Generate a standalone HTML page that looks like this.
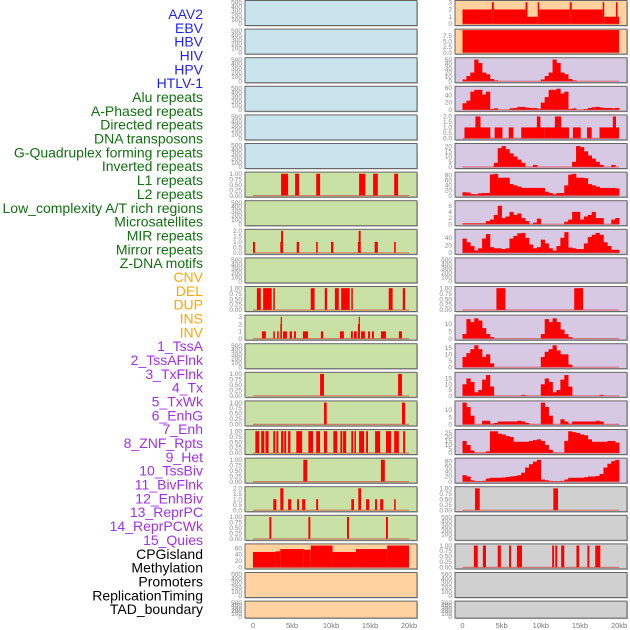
<!DOCTYPE html>
<html><head><meta charset="utf-8"><style>
html,body{margin:0;padding:0;background:#fff;width:630px;height:630px;overflow:hidden}
svg{display:block}
text{font-family:"Liberation Sans",sans-serif}
</style></head><body>
<svg id="chart" width="630" height="630" viewBox="0 0 630 630" xmlns="http://www.w3.org/2000/svg"></svg>
<script>
// ---- labels ----
const labels = ["AAV2","EBV","HBV","HIV","HPV","HTLV-1","Alu repeats","A-Phased repeats","Directed repeats","DNA transposons","G-Quadruplex forming repeats","Inverted repeats","L1 repeats","L2 repeats","Low_complexity A/T rich regions","Microsatellites","MIR repeats","Mirror repeats","Z-DNA motifs","CNV","DEL","DUP","INS","INV","1_TssA","2_TssAFlnk","3_TxFlnk","4_Tx","5_TxWk","6_EnhG","7_Enh","8_ZNF_Rpts","9_Het","10_TssBiv","11_BivFlnk","12_EnhBiv","13_ReprPC","14_ReprPCWk","15_Quies","CPGisland","Methylation","Promoters","ReplicationTiming","TAD_boundary"];
const labelColors = ["#1f1fff","#1f1fff","#1f1fff","#1f1fff","#1f1fff","#1f1fff","#117011","#117011","#117011","#117011","#117011","#117011","#117011","#117011","#117011","#117011","#117011","#117011","#117011","#ffa500","#ffa500","#ffa500","#ffa500","#ffa500","#a030f0","#a030f0","#a030f0","#a030f0","#a030f0","#a030f0","#a030f0","#a030f0","#a030f0","#a030f0","#a030f0","#a030f0","#a030f0","#a030f0","#a030f0","#000","#000","#000","#000","#000"];
const xTickValues = [0,5,10,15,20];
const xTickLabels = ["0","5kb","10kb","15kb","20kb"];

// ---- tick sets ----
const ticksEmpty = [0,100,200,300,400,500];
const ticks1 = [0,0.25,0.5,0.75,1.0];
const ticks2 = [0,0.5,1.0,1.5,2.0];
const ticks3 = [0,1,2,3];

// ---- segment data: [startKb, endKb, value] ----
const aluSegs = [[3.6,4.5,1],[5.4,5.9,1],[8.1,8.6,1],[13.6,14.4,1],[15.4,16.0,1],[18.1,18.6,1]];
const directedSegs = [[0,0.26,1],[3.5,3.8,1],[3.6,3.85,2],[5.6,5.9,1],[8.1,8.3,1],[10.0,10.3,1],[13.45,13.8,1],[13.55,13.8,2],[15.6,16.0,1],[18.1,18.3,1]];
const gquadSegs = [[0.5,1.0,1],[1.3,2.4,1],[2.6,2.8,1],[7.4,7.9,1],[9.2,9.5,1],[10.5,11.0,1],[11.3,12.4,1],[12.6,12.8,1],[17.4,17.9,1],[19.2,19.5,1]];
const invertedSegs = [[1.15,1.65,1],[2.6,2.8,1],[3.1,3.3,1],[3.5,3.7,2],[3.55,3.7,3],[3.85,4.35,1],[4.7,5.0,1],[5.25,5.5,1],[6.4,7.05,1],[8.7,9.0,1],[11.15,11.65,1],[12.55,12.8,1],[12.95,13.3,1],[13.45,13.7,2],[13.55,13.7,3],[13.85,14.35,1],[14.75,15.0,1],[15.25,15.5,1],[16.4,17.05,1],[18.7,19.1,1]];
const l2Segs = [[8.6,9.1,1],[18.6,19.1,1]];
const lowcSegs = [[9.1,9.45,1],[19.1,19.5,1]];
const microSegs = [[0.3,0.8,1],[1.05,1.45,1],[1.6,2.0,1],[2.6,2.85,1],[3.0,3.25,1],[3.6,3.9,1],[4.0,4.25,1],[4.5,4.8,1],[5.55,6.3,1],[7.1,7.7,1],[8.1,8.6,1],[9.1,9.5,1],[10.3,10.8,1],[11.2,11.45,1],[11.55,11.95,1],[12.6,12.85,1],[13.0,13.2,1],[13.6,14.25,1],[14.5,14.75,1],[15.65,16.3,1],[17.05,17.7,1],[18.1,18.7,1],[19.25,19.5,1]];
const mirSegs = [[6.45,6.95,1],[16.4,16.9,1]];
const mirrorSegs = [[2.6,3.0,1],[3.5,3.9,2],[4.5,4.9,1],[5.65,5.9,1],[6.3,6.7,1],[8.1,8.35,1],[12.6,12.95,1],[13.5,13.85,2],[14.5,14.9,1],[15.65,15.9,1],[16.3,16.7,1],[18.1,18.3,1]];
const zdnaSegs = [[2.1,2.35,1],[7.1,7.35,1],[12.05,12.3,1],[17.05,17.3,1]];
const cnvSegs = [[0,2.9,48],[2.9,3.5,50],[3.5,6.5,57],[6.5,7.4,55],[7.4,10.2,68],[10.2,13.2,48],[13.2,17.2,57],[17.2,20,68]];
const insSegs = [[0,3.75,2],[3.75,4.0,3],[4.0,8.05,2],[8.05,8.3,3],[8.3,9.6,1],[9.6,9.8,3],[9.8,13.7,2],[13.7,13.95,3],[13.95,17.9,2],[17.9,18.1,3],[18.1,19.6,1],[19.6,19.8,3],[19.8,20,1]];
const invSegs = [[0,20,10]];
const txFlnkSegs = [[0.25,3.55,1],[1.65,2.3,2],[4.1,5.1,1],[5.9,6.5,1],[7.5,10.45,1],[9.5,9.95,2],[10.45,13.6,1],[11.8,12.6,2],[14.1,15.1,1],[15.9,16.5,1],[17.5,20,1],[19.2,19.6,2]];
const hetSegs = [[4.33,5.48,1],[14.27,15.4,1]];
const cpgSegs = [[1.6,2.2,1],[11.6,12.2,1]];
const promoterSegs = [[1.45,1.95,1],[2.6,3.0,1],[4.5,4.9,1],[5.95,6.2,1],[6.95,7.6,1],[11.45,11.7,1],[11.85,12.1,1],[12.6,13.0,1],[14.55,14.9,1],[15.95,16.2,1],[16.95,17.6,1]];

// ---- binned data: 40 bins of 0.5kb ----
const tssABins = [4,12,20,50,42,20,16,5,2,0,0,0,0,0,0,0,0,0,0,0,4,12,20,50,42,20,16,5,2,0,0,0,0,0,0,0,0,0,0,0];
const tssAFlnkBins = [18,25,50,55,55,42,50,2,4,0,0,0,4,5,8,8,6,5,5,3,20,35,55,55,58,45,50,2,4,0,0,2,5,7,8,6,5,5,4,5];
const txBins = [0,0,0,0,0,0,0,0,4,18,20,17,13,10,7,4,0,0,2,0,0,0,0,0,0,0,0,0,5,20,19,15,11,8,5,2,0,0,2,0];
const txWkBins = [13,12,6,5,9,10,10,83,85,70,70,70,45,40,35,30,30,30,30,30,30,15,10,5,10,10,40,82,85,70,70,68,45,40,35,30,30,30,30,28];
const enhGBins = [0.3,0.3,0.3,0.3,0.3,0.3,1,1.5,3,6,2,2.5,4,3,3.5,2,1,0,0.5,1.8,0,0,0,0,0,0,0.8,1.5,4,4,1.5,2.5,3,4,2,2,0,0,1.5,2];
const enhBins = [38,28,18,6,12,38,50,15,12,12,10,12,38,45,52,53,40,22,12,15,35,25,12,6,18,40,55,14,12,10,10,25,42,48,53,48,28,18,8,8];
const tssBivBins = [3,13,11,13.5,12,7,3,1,0,0,0,0,0,0,0,0,0,0,0,0,3,13,11,13.5,11,6,3,1,0,0,0,0,0,0,0,0,0,0,0,0];
const bivFlnkBins = [8,11,14,17,14,8,10,3,0,0,0,0,0,0,0,0,0,0,0,0,8,12,14,17,13,10,10,2,0,0,0,0,0,0,0,0,0,0,0,0];
const enhBivBins = [10,15,12,3,5,14,18,8,0,0,0,0,0,0,0,0.8,0,0,0,0,10,15,12,3,5,14,18,8,0,0,0,0,0,0,0,0.8,0,0,0,0];
const reprPCBins = [15,12,6,0,0,2.5,2.5,0.5,1,2,2,2,2,2,2.5,2,1,0,0,0,15,12,6,0,0,3.5,2,0.5,2,2,2,2,2,2,2.5,2,0,0,0,0];
const reprPCWkBins = [15,10,3,0.5,0.5,0.5,2,27,27,24,23,21,20,14,14,14,14,15,16,17,15,10,4,0.5,0.5,0.5,15,27,26,25,23,22,17,14,14,14,14,15,15,13];
const quiesBins = [25,20,5,2,2,3,12,15,15,15,16,18,20,22,25,35,55,68,78,85,8,5,3,2,2,3,8,15,15,15,15,17,20,20,22,30,55,70,80,85];

// ---- panels: [labelIndex, column, row, bg, ymax, ticks, type, data] ----
const BLUE="#c9e4ec", GREEN="#c9e1a5", ORANGE="#ffd2a0", PURPLE="#d7c8e3", GREY="#d0d0d0";
const panels = [
 [0,0,0,BLUE,520,ticksEmpty,null,null],[1,0,1,BLUE,520,ticksEmpty,null,null],[2,0,2,BLUE,520,ticksEmpty,null,null],
 [3,0,3,BLUE,520,ticksEmpty,null,null],[4,0,4,BLUE,520,ticksEmpty,null,null],[5,0,5,BLUE,520,ticksEmpty,null,null],
 [6,0,6,GREEN,1.03,ticks1,"seg",aluSegs],[7,0,7,GREEN,520,ticksEmpty,null,null],[8,0,8,GREEN,2.05,ticks2,"seg",directedSegs],
 [9,0,9,GREEN,520,ticksEmpty,null,null],[10,0,10,GREEN,1.03,ticks1,"seg",gquadSegs],[11,0,11,GREEN,3.1,ticks3,"seg",invertedSegs],
 [12,0,12,GREEN,520,ticksEmpty,null,null],[13,0,13,GREEN,1.03,ticks1,"seg",l2Segs],[14,0,14,GREEN,1.03,ticks1,"seg",lowcSegs],
 [15,0,15,GREEN,1.03,ticks1,"seg",microSegs],[16,0,16,GREEN,1.03,ticks1,"seg",mirSegs],[17,0,17,GREEN,2.05,ticks2,"seg",mirrorSegs],
 [18,0,18,GREEN,1.03,ticks1,"seg",zdnaSegs],[19,0,19,ORANGE,70,[0,20,40,60],"seg",cnvSegs],[20,0,20,ORANGE,520,ticksEmpty,null,null],
 [21,0,21,ORANGE,520,ticksEmpty,null,null],
 [22,1,0,ORANGE,3.1,ticks3,"seg",insSegs],[23,1,1,ORANGE,10,[0,2.5,5,7.5],"seg",invSegs],
 [24,1,2,PURPLE,52,[0,10,20,30,40,50],"bin",tssABins],[25,1,3,PURPLE,62,[0,20,40,60],"bin",tssAFlnkBins],
 [26,1,4,PURPLE,2.05,ticks2,"seg",txFlnkSegs],[27,1,5,PURPLE,21.5,[0,5,10,15,20],"bin",txBins],
 [28,1,6,PURPLE,88,[0,20,40,60,80],"bin",txWkBins],[29,1,7,PURPLE,7.3,[0,2,4,6],"bin",enhGBins],
 [30,1,8,PURPLE,60,[0,20,40],"bin",enhBins],[31,1,9,PURPLE,520,ticksEmpty,null,null],
 [32,1,10,PURPLE,1.03,ticks1,"seg",hetSegs],[33,1,11,PURPLE,15,[0,5,10],"bin",tssBivBins],
 [34,1,12,PURPLE,17.5,[0,5,10,15],"bin",bivFlnkBins],[35,1,13,PURPLE,19.5,[0,5,10,15],"bin",enhBivBins],
 [36,1,14,PURPLE,15.5,[0,5,10],"bin",reprPCBins],[37,1,15,PURPLE,28,[0,5,10,15,20,25],"bin",reprPCWkBins],
 [38,1,16,PURPLE,88,[0,20,40,60,80],"bin",quiesBins],[39,1,17,GREY,1.03,ticks1,"seg",cpgSegs],
 [40,1,18,GREY,520,ticksEmpty,null,null],[41,1,19,GREY,1.03,ticks1,"seg",promoterSegs],
 [42,1,20,GREY,520,ticksEmpty,null,null],[43,1,21,GREY,520,ticksEmpty,null,null]
];

const NS="http://www.w3.org/2000/svg";
const svg=document.getElementById('chart');
function mk(tag,attrs,parent){const e=document.createElementNS(NS,tag);for(const k in attrs)e.setAttribute(k,attrs[k]);(parent||svg).appendChild(e);return e;}
const colX=[[245,417,253,7.8],[455,627,462.5,7.83]];
function rowTop(r){return 0.5+r*28.6;}
function rowH(r){return r===21?17:25;}
function xScale(col,kb){return colX[col][2]+kb*colX[col][3];}
function fmt(t,ticks){const mx=ticks[ticks.length-1];if(mx===1)return t.toFixed(2);if(mx===2||mx===7.5)return t.toFixed(1);return String(t);}

// labels
labels.forEach((s,i)=>{
  const t=mk('text',{x:203,y:19+i*13.84,'text-anchor':'end','font-size':14,fill:labelColors[i]});
  t.textContent=s;
  
  
});

panels.forEach(p=>{
  const [li,col,row,bg,ymax,ticks,type,data]=p;
  const T=rowTop(row),H=rowH(row),L=colX[col][0],R=colX[col][1];
  const slug=labels[li].toLowerCase().replace(/[^a-z0-9]+/g,'-');
  const g=mk('g',{});
  
  
  const y0=T+H-1.5, yTop=T+1;
  const yS=v=>y0-(v/ymax)*(y0-yTop);
  mk('rect',{x:L+1,y:T+1,width:R-L,height:H,fill:'#bbb'},g);
  const bgr=mk('rect',{x:L,y:T,width:R-L,height:H,fill:bg,stroke:'#666','stroke-width':1},g);
  
  
  // y ticks
  ticks.forEach(t=>{
    const tx=mk('text',{x:L-3,y:yS(t)+2.2,'text-anchor':'end','font-size':6.5,fill:'#888'},g);
    tx.textContent=fmt(t,ticks);
    
    
  });
  if(!type) return;
  if(type==='seg'){
    data.forEach(s=>{
      const x1=xScale(col,s[0]),x2=xScale(col,s[1]);
      const r=mk('rect',{x:x1,y:yS(s[2]),width:Math.max(1.2,x2-x1),height:y0-yS(s[2]),fill:'#ff0000'},g);
      
      
    });
  } else {
    data.forEach((v,i)=>{
      if(v<=0) return;
      const x1=xScale(col,i*0.5),x2=xScale(col,(i+1)*0.5);
      const r=mk('rect',{x:x1,y:yS(v),width:x2-x1+0.3,height:y0-yS(v),fill:'#ff0000'},g);
      
      
    });
  }
  const bl=mk('line',{x1:xScale(col,0),x2:xScale(col,20),y1:y0,y2:y0,stroke:'#d04040','stroke-opacity':0.6,'stroke-width':1.2},g);
  
  
});

// x axes
[0,1].forEach(col=>{
  xTickValues.forEach((v,i)=>{
    const t=mk('text',{x:xScale(col,v),y:628,'text-anchor':'middle','font-size':7.5,fill:'#777'});
    t.textContent=xTickLabels[i];
    
    
  });
});
</script>
</body></html>
